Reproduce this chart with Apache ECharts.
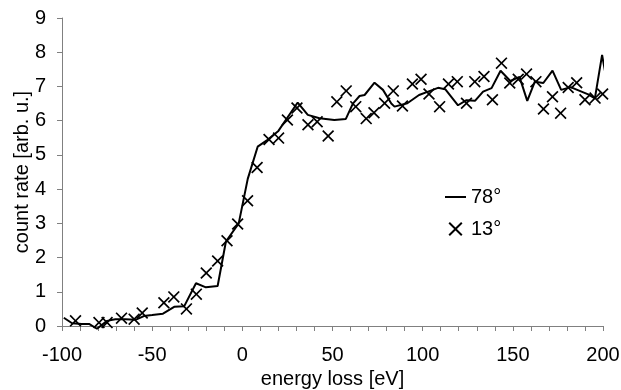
<!DOCTYPE html>
<html>
<head>
<meta charset="utf-8">
<script src="https://cdn.jsdelivr.net/npm/echarts@6/dist/echarts.min.js"></script>
<style>
  html, body { margin: 0; padding: 0; background: #fff; }
  #chart { width: 621px; height: 390px; }
</style>
</head>
<body>
<div id="chart"></div>
<script>
// 78 degree curve (line)
var energy78 = [-99, -94.4, -89, -85, -80.6, -75, -70.4, -64.8, -59.3, -54.6, -50, -44, -37.8, -32.2, -25.7, -20.2, -13.7, -9.1, -2, 3, 8.5, 14, 20, 30.7, 36.3, 42.8, 51, 57.4, 61.3, 65, 67.8, 73.3, 78, 82.6, 84.4, 91.5, 98, 103, 108.5, 112.5, 119.6, 124.3, 129, 133.5, 138.2, 143.2, 148.6, 153.7, 158, 162.2, 166.9, 172, 176.8, 182, 191.8, 195.5, 199.5, 202.3];
var rate78 = [0.24, 0.08, 0.06, 0.06, -0.08, 0.15, 0.2, 0.2, 0.18, 0.29, 0.32, 0.36, 0.56, 0.58, 1.25, 1.13, 1.17, 2.47, 3.0, 4.3, 5.24, 5.44, 5.7, 6.53, 6.17, 6.07, 6.02, 6.05, 6.5, 6.72, 6.75, 7.11, 6.9, 6.5, 6.41, 6.51, 6.75, 6.85, 6.96, 6.92, 6.45, 6.6, 6.58, 6.85, 6.95, 7.46, 7.16, 7.28, 6.58, 7.14, 7.1, 7.46, 6.9, 6.98, 6.77, 6.65, 7.92, 7.1];

// 13 degree points (crosses)
var energy13 = [-92.5, -79.5, -75, -67, -60, -55.5, -43.5, -38, -31, -25.5, -20, -13.7, -8.5, -2.6, 2.9, 8.2, 14.8, 20.1, 25, 30.3, 36.4, 41.5, 47.6, 52.4, 57.6, 62.9, 68.7, 73, 78.9, 83.7, 88.8, 94.3, 99.1, 103.5, 109.4, 114.3, 119.2, 124.3, 128.9, 134, 138.7, 143.7, 148.3, 153, 157.6, 162.8, 167, 172, 176.5, 180.7, 185.4, 190, 195.6, 199.8];
var rate13 = [0.15, 0.1, 0.1, 0.23, 0.2, 0.38, 0.68, 0.85, 0.5, 0.93, 1.55, 1.9, 2.49, 2.98, 3.66, 4.63, 5.45, 5.49, 6.02, 6.37, 5.88, 5.97, 5.55, 6.55, 6.87, 6.41, 6.06, 6.23, 6.51, 6.87, 6.43, 7.07, 7.21, 6.78, 6.41, 7.07, 7.14, 6.51, 7.14, 7.29, 6.61, 7.68, 7.1, 7.21, 7.36, 7.14, 6.34, 6.7, 6.22, 6.97, 7.11, 6.61, 6.66, 6.78];

var xTicks = [-100, -50, 0, 50, 100, 150, 200];

function pairs(xs, ys) {
  var out = [];
  for (var i = 0; i < xs.length; i++) out.push([xs[i], ys[i]]);
  return out;
}

var crossPath = 'path://M0,10 L10,0 L50,40 L90,0 L100,10 L60,50 L100,90 L90,100 L50,60 L10,100 L0,90 L40,50 Z';
var dashPath = 'path://M0,0 L21,0 L21,2 L0,2 Z';
var font = 'Liberation Sans, Arial, sans-serif';
var axisGray = '#808080';

var myChart = echarts.init(document.getElementById('chart'));
myChart.setOption({
  animation: false,
  grid: { left: 62, right: 18, top: 18, bottom: 64, containLabel: false, outerBoundsMode: 'none' },
  legend: {
    orient: 'vertical',
    left: 440,
    top: 182,
    itemWidth: 21,
    itemHeight: 14,
    itemGap: 12,
    textStyle: { fontFamily: font, fontSize: 20, color: '#000', lineHeight: 20 },
    data: [{ name: '78°', icon: dashPath }, { name: '13°' }]
  },
  xAxis: {
    type: 'value',
    min: -100,
    max: 200,
    interval: 10,
    name: 'energy loss [eV]',
    nameLocation: 'middle',
    nameGap: 41,
    nameTextStyle: { fontFamily: font, fontSize: 20, color: '#000' },
    splitLine: { show: false },
    axisLine: { show: true, onZero: false, lineStyle: { color: axisGray, width: 1 } },
    axisTick: { show: true, inside: false, length: 5, lineStyle: { color: axisGray } },
    axisLabel: {
      margin: 19,
      fontFamily: font, fontSize: 20, color: '#000',
      formatter: function (v) { return xTicks.indexOf(v) >= 0 ? String(v) : ''; }
    }
  },
  yAxis: {
    type: 'value',
    min: 0,
    max: 9,
    interval: 1,
    name: 'count rate [arb. u.]',
    nameLocation: 'middle',
    nameGap: 30,
    nameMoveOverlap: false,
    nameTextStyle: { fontFamily: font, fontSize: 20, color: '#000' },
    splitLine: { show: false },
    axisLine: { show: true, onZero: false, lineStyle: { color: axisGray, width: 1 } },
    axisTick: { show: true, inside: false, length: 5, lineStyle: { color: axisGray } },
    axisLabel: { margin: 16, fontFamily: font, fontSize: 20, color: '#000' }
  },
  series: [
    {
      name: '78°',
      type: 'line',
      data: pairs(energy78, rate78),
      symbol: 'none',
      clip: false,
      itemStyle: { color: '#000' },
      lineStyle: { color: '#000', width: 2 }
    },
    {
      name: '13°',
      type: 'scatter',
      data: pairs(energy13, rate13),
      symbol: crossPath,
      symbolSize: 12,
      itemStyle: { color: '#000', opacity: 1 }
    }
  ]
});
</script>
</body>
</html>
